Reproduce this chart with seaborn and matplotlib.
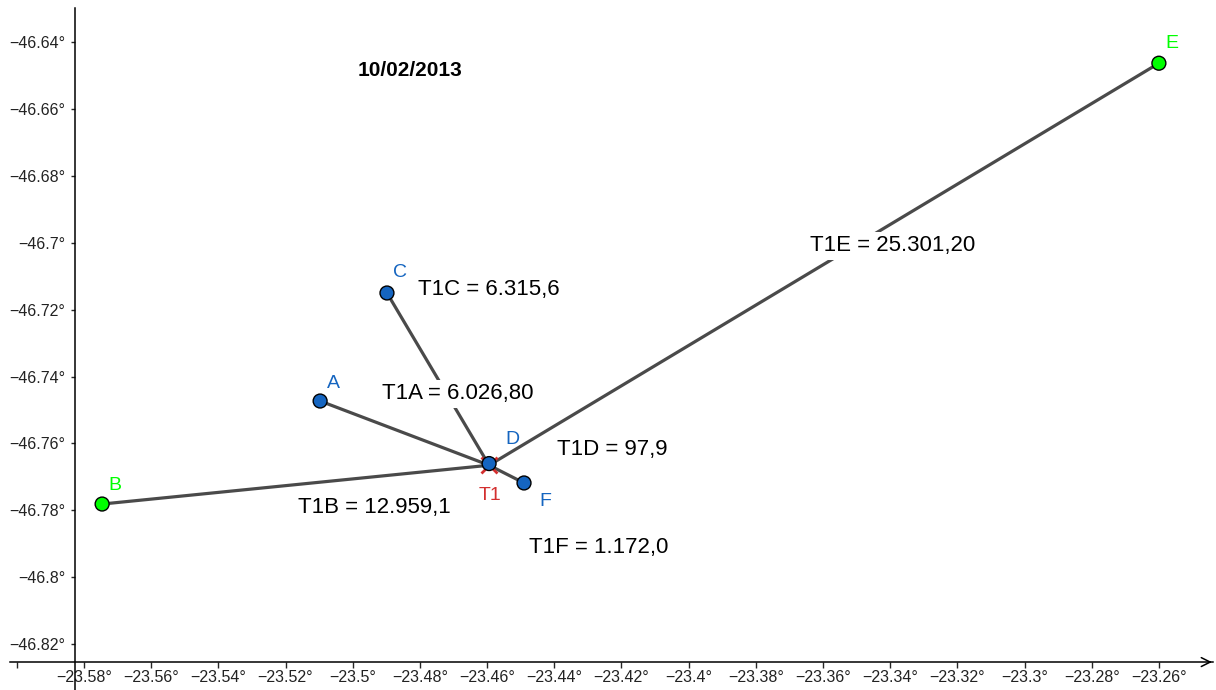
import numpy as np
import pandas as pd
import matplotlib
matplotlib.use("Agg")
import matplotlib.pyplot as plt
import seaborn as sns

# ---------------- data ----------------
names = ["A", "B", "C", "D", "E", "F"]
lon = [-23.5097, -23.5746, -23.4898, -23.4594, -23.2600, -23.4490]
lat = [-46.7473, -46.7781, -46.7150, -46.7660, -46.6463, -46.7718]
group = ["sta", "ref", "sta", "sta", "ref", "sta"]
t1_name = "T1"
t1_lon = -23.4594
t1_lat = -46.7665
dist_labels = ["T1A = 6.026,80", "T1B = 12.959,1", "T1C = 6.315,6",
               "T1D = 97,9", "T1E = 25.301,20", "T1F = 1.172,0"]
title_text = "10/02/2013"
x_ticks = [-23.58, -23.56, -23.54, -23.52, -23.50, -23.48, -23.46, -23.44, -23.42,
           -23.40, -23.38, -23.36, -23.34, -23.32, -23.30, -23.28, -23.26]
y_ticks = [-46.64, -46.66, -46.68, -46.70, -46.72, -46.74, -46.76, -46.78, -46.80, -46.82]

# ---------------- layout / style ----------------
W, H = 1216, 690
xlim = (-23.6050, -23.2430)
ylim = (-46.8337, -46.6274)
yaxis_at = -23.58268
xaxis_at = -46.82535
label_offsets = {"A": (13, 18), "B": (13, 19), "C": (13, 20), "D": (23, 24),
                 "E": (13, 20), "F": (21, -19), "T1": (1, -30)}
dist_pos_px = [(382, 394), (298, 508), (418, 290), (557, 449), (810, 246), (529, 547)]
title_pos_px = (358, 70)
blue = "#1565C0"
green = "#00FF00"
red = "#D32F2F"

sns.set_style("white")
plt.rcParams["font.family"] = ["Liberation Sans", "DejaVu Sans"]

pts = pd.DataFrame({"name": names, "lon": lon, "lat": lat, "group": group})
seg_rows = []
for n, x, y in zip(names, lon, lat):
    seg_rows.append({"seg": n, "lon": t1_lon, "lat": t1_lat})
    seg_rows.append({"seg": n, "lon": x, "lat": y})
segs = pd.DataFrame(seg_rows)

fig = plt.figure(figsize=(W / 100, H / 100), dpi=100)
ax = fig.add_axes([0, 0, 1, 1])
ax.set_xlim(*xlim)
ax.set_ylim(*ylim)

sns.lineplot(data=segs, x="lon", y="lat", units="seg", estimator=None, sort=False,
             color="#4a4a4a", lw=2.3, ax=ax, zorder=2, legend=False)
ax.plot([t1_lon], [t1_lat], ls="", marker="x", ms=11, mew=2, color=red, zorder=3)
sns.scatterplot(data=pts, x="lon", y="lat", hue="group",
                palette={"sta": blue, "ref": green}, s=100, edgecolor="black",
                linewidth=1, ax=ax, zorder=4, legend=False)

label_colors = {"sta": blue, "ref": green}
for n, x, y, g in zip(names, lon, lat, group):
    ax.annotate(n, (x, y), xytext=label_offsets[n], textcoords="offset pixels",
                ha="center", va="center", fontsize=14, color=label_colors[g], zorder=5)
ax.annotate(t1_name, (t1_lon, t1_lat), xytext=label_offsets["T1"], textcoords="offset pixels",
            ha="center", va="center", fontsize=14, color=red, zorder=5)

for txt, (px, py) in zip(dist_labels, dist_pos_px):
    ax.text(px / W, 1 - py / H, txt, transform=ax.transAxes, ha="left", va="center",
            fontsize=16, color="black", zorder=3,
            bbox=dict(boxstyle="square,pad=0.15", fc="white", ec="none"))
ax.text(title_pos_px[0] / W, 1 - title_pos_px[1] / H, title_text, transform=ax.transAxes,
        ha="left", va="center", fontsize=15, fontweight="bold", color="black")

# GeoGebra-like axes
for s in ["top", "right"]:
    ax.spines[s].set_visible(False)
ax.spines["left"].set_position(("data", yaxis_at))
ax.spines["bottom"].set_position(("data", xaxis_at))
ax.spines["left"].set_bounds(ylim[0], -46.6298)
ax.spines["bottom"].set_bounds(-23.6020, -23.2439)
for s in ["left", "bottom"]:
    ax.spines[s].set_color("black")
    ax.spines[s].set_linewidth(1.1)
ax.annotate("", xy=(-23.2434, xaxis_at), xytext=(-23.2460, xaxis_at),
            arrowprops=dict(arrowstyle="->", lw=1.1, color="black", mutation_scale=16),
            annotation_clip=False)

def fmt(v):
    s = f"{round(v, 2):g}".replace("-", "\u2212")
    return s + "\u00b0"

ax.set_xticks(x_ticks)
ax.set_xticklabels([fmt(v) for v in x_ticks])
ax.set_xticks([-23.60], minor=True)
ax.set_yticks(y_ticks)
ax.set_yticklabels([fmt(v) for v in y_ticks])
ax.tick_params(axis="x", which="both", direction="out", length=4, width=1, pad=2,
               labelsize=11.5, labelcolor="#222222", bottom=True)
ax.tick_params(axis="y", direction="out", length=3, width=1, pad=4,
               labelsize=11.5, labelcolor="#222222", left=True)
ax.set_xlabel("")
ax.set_ylabel("")
ax.grid(False)

fig.savefig("out.png", dpi=100)
